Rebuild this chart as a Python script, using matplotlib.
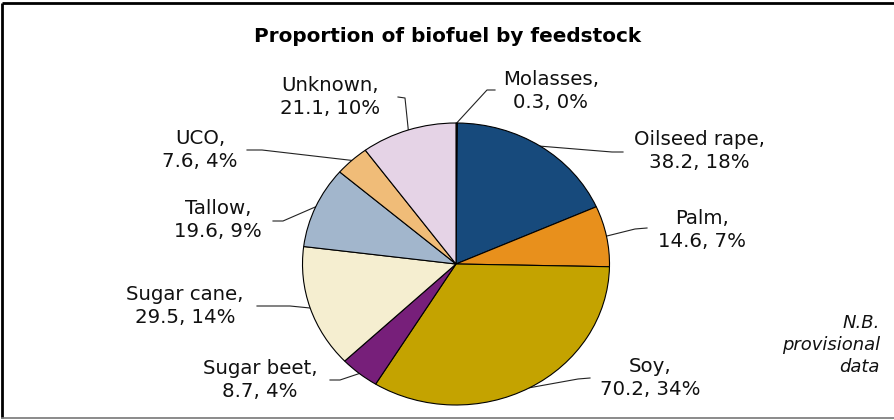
import matplotlib
matplotlib.use("Agg")
import matplotlib.pyplot as plt
import numpy as np

# ---- data ----
categories = ["Molasses", "Oilseed rape", "Palm", "Soy", "Sugar beet",
              "Sugar cane", "Tallow", "UCO", "Unknown"]
values = [0.3, 38.2, 14.6, 70.2, 8.7, 29.5, 19.6, 7.6, 21.1]
percents = [0, 18, 7, 34, 4, 14, 9, 4, 10]
colors = ["#5a7a3a", "#174A7C", "#E8901C", "#C4A300", "#771F7A",
          "#F5EED0", "#A2B6CC", "#F0BC78", "#E5D3E6"]
title = "Proportion of biofuel by feedstock"
note = "N.B.\nprovisional\ndata"

# ---- layout (pixels) ----
W, H = 895, 420
cx, cy, rx, ry = 456.0, 264.0, 153.5, 141.0
label_pos = [(551, 91), (699, 151), (702, 230), (650, 378), (260, 380),
             (185, 306), (218, 220), (200, 150), (330, 97)]
anchors = [(495, 90), (623, 152), (647, 228), (590, 378), (330, 380),
           (257, 306), (273, 221), (247, 150), (398, 97)]
elbows = [(487, 90), (612, 152), (635, 229), (578, 379), (340, 380),
          (290, 306), (283, 221), (262, 150), (405, 98)]

fig = plt.figure(figsize=(W / 100, H / 100), dpi=100)
fig.patch.set_facecolor("white")

# pixel-coordinate overlay axes
ax = fig.add_axes([0, 0, 1, 1])
ax.set_xlim(0, W)
ax.set_ylim(H, 0)
ax.axis("off")

# pie axes, stretched to an ellipse
pax = fig.add_axes([(cx - rx) / W, (H - cy - ry) / H, 2 * rx / W, 2 * ry / H])
wedges, _ = pax.pie(values, colors=colors, startangle=90, counterclock=False,
                    wedgeprops=dict(edgecolor="black", linewidth=0.8))
pax.set_aspect("auto")
pax.set_xlim(-1, 1)
pax.set_ylim(-1, 1)
pax.axis("off")
for w in wedges:
    w.set_clip_on(False)

fs = 14.2
for i, w in enumerate(wedges):
    mid = np.deg2rad((w.theta1 + w.theta2) / 2)
    ex = cx + rx * np.cos(mid)
    ey = cy - ry * np.sin(mid)
    xs = [anchors[i][0], elbows[i][0], ex]
    ys = [anchors[i][1], elbows[i][1], ey]
    ax.plot(xs, ys, color="#222222", lw=0.8, zorder=1)
    txt = f"{categories[i]},\n{values[i]}, {percents[i]}%"
    ax.text(label_pos[i][0], label_pos[i][1], txt, ha="center", va="center",
            multialignment="center", fontsize=fs, color="#111111",
            linespacing=1.3, family="DejaVu Sans")

ax.text(448, 37, title, ha="center", va="center", fontsize=14.4,
        fontweight="bold", color="black", family="DejaVu Sans")
ax.text(880, 345, note, ha="right", va="center", multialignment="right",
        fontsize=13, style="italic", color="#111111", linespacing=1.25,
        family="DejaVu Sans")

# frame lines
ax.plot([2.5, W], [2.5, 2.5], color="black", lw=2.0, solid_capstyle="butt")
ax.plot([2.5, 2.5], [2.5, H - 2], color="black", lw=2.0, solid_capstyle="butt")
ax.plot([2.5, W], [418, 418], color="#777777", lw=1.2)

fig.savefig("out.png", dpi=100, facecolor="white")
